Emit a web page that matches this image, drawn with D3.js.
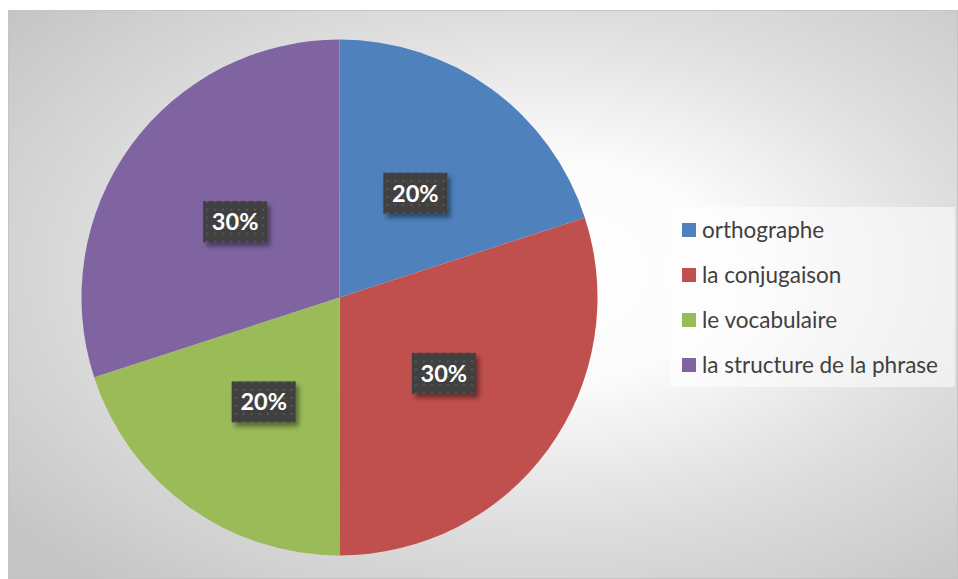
<!DOCTYPE html>
<html>
<head>
<meta charset="utf-8">
<script src="https://cdn.jsdelivr.net/npm/d3@7"></script>
<style>
  html, body { margin: 0; padding: 0; background: #ffffff; }
  svg { display: block; }
</style>
</head>
<body>
<svg id="chart" width="958" height="579"></svg>
<script>
// Répartition des difficultés
const categories = ["orthographe", "la conjugaison", "le vocabulaire", "la structure de la phrase"];
const values = [20, 30, 20, 30];
const colors = ["#4F81BD", "#C0504D", "#9BBB59", "#8064A2"];

const W = 958, H = 579;
const svg = d3.select("#chart");
const defs = svg.append("defs");

// Soft radial background of the chart area
const bg = defs.append("radialGradient")
  .attr("id", "bgGrad")
  .attr("cx", 0.56).attr("cy", 0.46).attr("r", 0.72);
[[0, "#ffffff"], [0.28, "#fbfbfb"], [0.62, "#dedede"], [1, "#c5c5c5"]]
  .forEach(([o, c]) => bg.append("stop").attr("offset", o).attr("stop-color", c));

// Dotted dark fill for the value labels
const pat = defs.append("pattern")
  .attr("id", "dots").attr("patternUnits", "userSpaceOnUse")
  .attr("width", 8).attr("height", 8);
pat.append("rect").attr("width", 8).attr("height", 8).attr("fill", "#3f3f3f");
pat.append("rect").attr("x", 3).attr("y", 3).attr("width", 2).attr("height", 2).attr("fill", "#575757");

const shadow = defs.append("filter").attr("id", "shadow")
  .attr("x", "-30%").attr("y", "-30%").attr("width", "170%").attr("height", "180%");
shadow.append("feDropShadow")
  .attr("dx", 3).attr("dy", 4).attr("stdDeviation", 2.5)
  .attr("flood-color", "#000").attr("flood-opacity", 0.45);

// Chart area
svg.append("rect")
  .attr("x", 8.5).attr("y", 10.5).attr("width", 949).attr("height", 568)
  .attr("fill", "url(#bgGrad)")
  .attr("stroke", "#c4c4c4").attr("stroke-width", 1);

// Pie
const cx = 339.5, cy = 297.5, radius = 258;
const pie = d3.pie().sort(null).value(d => d)(values);
const arc = d3.arc().innerRadius(0).outerRadius(radius);
const labelArc = d3.arc().innerRadius(radius * 0.5).outerRadius(radius * 0.5);

const g = svg.append("g").attr("transform", `translate(${cx},${cy})`);
g.selectAll("path.slice")
  .data(pie)
  .join("path")
  .attr("class", "slice")
  .attr("d", arc)
  .attr("fill", (d, i) => colors[i]);

const total = d3.sum(values);
const fmt = d => Math.round(d / total * 100) + "%";

const labels = g.selectAll("g.lbl")
  .data(pie)
  .join("g")
  .attr("class", "lbl")
  .attr("transform", d => {
    const [x, y] = labelArc.centroid(d);
    return `translate(${x},${y})`;
  });
labels.append("rect")
  .attr("x", -32).attr("y", -20.5).attr("width", 64).attr("height", 41)
  .attr("fill", "url(#dots)")
  .attr("filter", "url(#shadow)");
labels.append("text")
  .attr("text-anchor", "middle")
  .attr("dy", "0.36em")
  .attr("fill", "#ffffff")
  .attr("font-family", "Lato, 'Open Sans', sans-serif")
  .attr("font-weight", "bold")
  .attr("font-size", 23.5)
  .text(d => fmt(d.data));

// Legend
const legend = svg.append("g");
legend.append("rect")
  .attr("x", 670).attr("y", 207).attr("width", 285).attr("height", 180)
  .attr("fill", "#ffffff").attr("fill-opacity", 0.55);

const ly = d3.scalePoint().domain(categories).range([230, 365]);
const items = legend.selectAll("g.item")
  .data(categories)
  .join("g")
  .attr("class", "item")
  .attr("transform", d => `translate(682,${ly(d)})`);
items.append("rect")
  .attr("x", 0).attr("y", -7).attr("width", 14).attr("height", 14)
  .attr("fill", (d, i) => colors[i]);
items.append("text")
  .attr("x", 20)
  .attr("dy", "0.35em")
  .attr("fill", "#404040")
  .attr("font-family", "Lato, 'Open Sans', sans-serif")
  .attr("font-size", 22.5)
  .text(d => d);
</script>
</body>
</html>
